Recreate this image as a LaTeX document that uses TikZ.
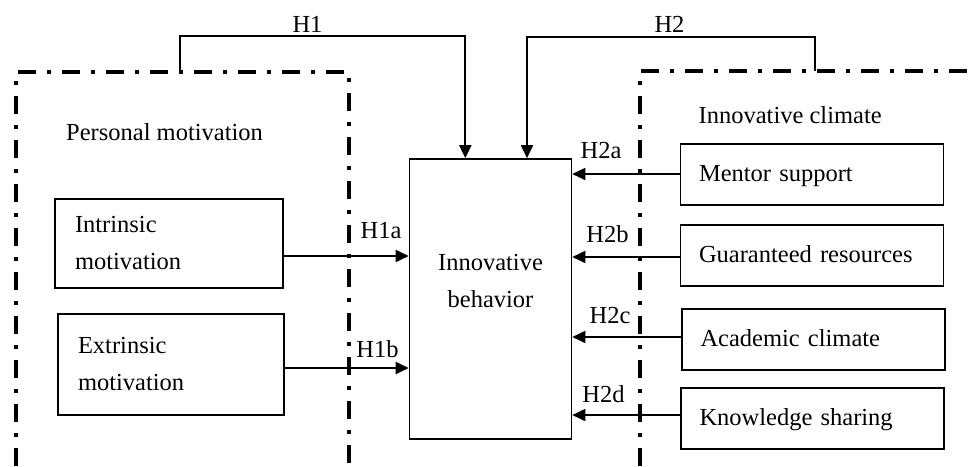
\documentclass[tikz,border=0pt]{standalone}
\usepackage{fontspec}
\setmainfont{Liberation Serif}
\usetikzlibrary{arrows.meta}
\begin{document}
\begin{tikzpicture}[x=1pt,y=-1pt,
  every node/.style={font=\fontsize{24.5}{37}\selectfont, inner sep=0pt},
  box/.style={draw, line width=1.6pt, align=left, inner ysep=0pt},
  sbox/.style={box, text height=13pt, text depth=0pt, minimum height=61pt, text width=226pt, inner xsep=18.5pt},
  arr/.style={line width=1.8pt, -{Triangle[length=13pt,width=12pt]}},
  frame/.style={line width=3.5pt, dash pattern=on 18pt off 11pt on 4pt off 11pt},
  hlab/.style={anchor=base}]
\useasboundingbox (0,0) rectangle (969,466);
% group frames
\draw[frame] (16,466) -- (16,72) -- (349,72) -- (349,466);
\draw[frame] (640,466) -- (640,71) -- (969,71);
\coordinate (h1s) at (180,72);
\coordinate (h2s) at (815,71);
% group titles
\node[anchor=base west] (pm) at (66,140) {Personal motivation};
\node[anchor=base west] (ic) at (698.5,123) {Innovative climate};
% boxes
\node[box, text width=188pt, inner xsep=20pt, minimum height=89pt] (intr) at (169,243.5) {Intrinsic\\motivation};
\node[box, text width=186pt, inner xsep=20pt, minimum height=101pt] (extr) at (171,364.5) {Extrinsic\\motivation};
\node[draw, line width=1.6pt, minimum width=162pt, minimum height=280pt] (ib) at (490.5,299) {};
\node[align=center] (ibt) at (490.5,281.2) {Innovative\\behavior};
\node[sbox] (ms) at (812,174.5) {Mentor support};
\node[sbox] (gr) at (812,255.5) {Guaranteed resources};
\node[sbox] (ac) at (813.5,339.5) {Academic climate};
\node[sbox] (ks) at (812.5,418.5) {Knowledge sharing};
% connectors
\draw[arr] (h1s) -- ++(0,-36) -| ([xshift=-25.2pt]ib.north);
\draw[arr] (h2s) -- ++(0,-34) -| ([xshift=36.5pt]ib.north);
\draw[arr] ([yshift=-12.5pt]intr.east) coordinate (a1) -- (a1 -| ib.west);
\draw[arr] ([yshift=-3.5pt]extr.east) coordinate (a2) -- (a2 -| ib.west);
\draw[arr] ([yshift=0.5pt]ms.west) coordinate (b1) -- (b1 -| ib.east);
\draw[arr] ([yshift=-1.5pt]gr.west) coordinate (b2) -- (b2 -| ib.east);
\draw[arr] ([yshift=2.5pt]ac.west) coordinate (b3) -- (b3 -| ib.east);
\draw[arr] ([yshift=3.5pt]ks.west) coordinate (b4) -- (b4 -| ib.east);
% labels
\node[hlab] (l1) at (307.5,32) {H1};
\node[hlab] (l2) at (669.5,32) {H2};
\node[hlab] (l1a) at (381,238) {H1a};
\node[hlab] (l1b) at (377.5,357) {H1b};
\node[hlab] (l2a) at (601,158) {H2a};
\node[hlab] (l2b) at (607.5,242) {H2b};
\node[hlab] (l2c) at (610,323) {H2c};
\node[hlab] (l2d) at (603.5,402) {H2d};
\end{tikzpicture}
\end{document}
